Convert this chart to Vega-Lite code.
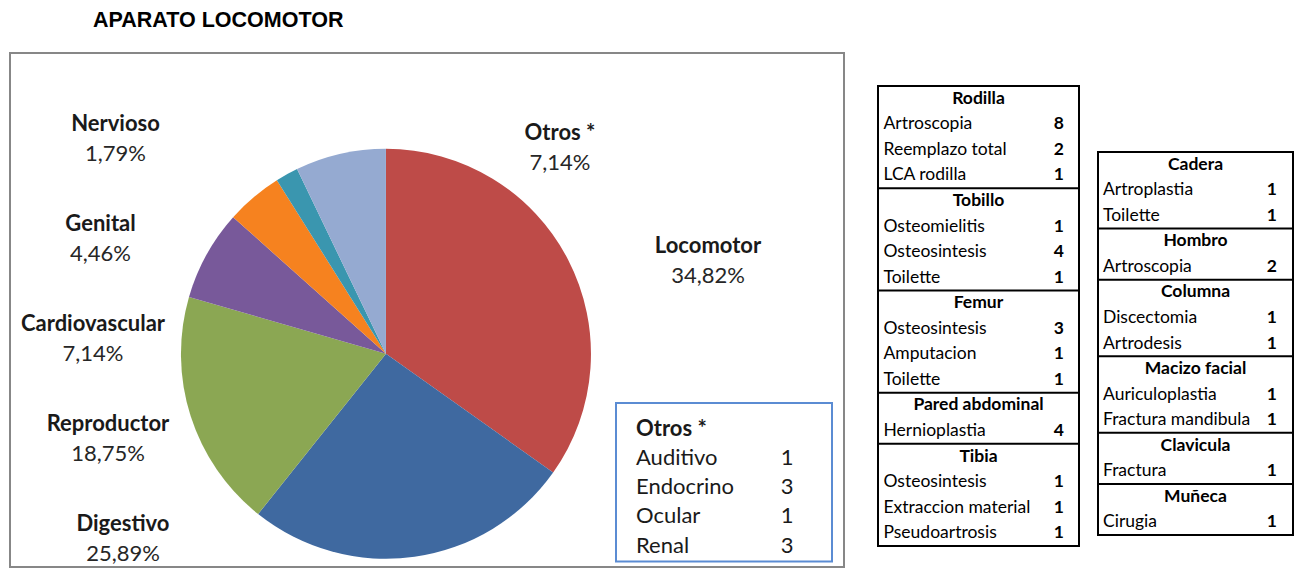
{
  "$schema": "https://vega.github.io/schema/vega-lite/v6.json",
  "padding": {"left": 9, "top": 9, "right": 0, "bottom": 0},
  "config": {
    "locale": {"number": {"decimal": ",", "thousands": ".", "grouping": [3], "currency": ["", " €"]}},
    "view": {"stroke": null},
    "text": {"font": "Lato", "color": "#000000"},
    "title": {"font": "Lato"}
  },
  "datasets": {
    "sistemas": [
      {"sistema": "Locomotor", "proporcion": 0.3482},
      {"sistema": "Digestivo", "proporcion": 0.2589},
      {"sistema": "Reproductor", "proporcion": 0.1875},
      {"sistema": "Cardiovascular", "proporcion": 0.0714},
      {"sistema": "Genital", "proporcion": 0.0446},
      {"sistema": "Nervioso", "proporcion": 0.0179},
      {"sistema": "Otros *", "proporcion": 0.0714}
    ],
    "otros": [
      {"tipo": "grupo", "organo": "Otros *"},
      {"tipo": "item", "organo": "Auditivo", "casos": 1},
      {"tipo": "item", "organo": "Endocrino", "casos": 3},
      {"tipo": "item", "organo": "Ocular", "casos": 1},
      {"tipo": "item", "organo": "Renal", "casos": 3}
    ],
    "tabla1": [
      {"tipo": "grupo", "texto": "Rodilla"},
      {"tipo": "item", "texto": "Artroscopia", "casos": 8},
      {"tipo": "item", "texto": "Reemplazo total", "casos": 2},
      {"tipo": "item", "texto": "LCA rodilla", "casos": 1},
      {"tipo": "grupo", "texto": "Tobillo"},
      {"tipo": "item", "texto": "Osteomielitis", "casos": 1},
      {"tipo": "item", "texto": "Osteosintesis", "casos": 4},
      {"tipo": "item", "texto": "Toilette", "casos": 1},
      {"tipo": "grupo", "texto": "Femur"},
      {"tipo": "item", "texto": "Osteosintesis", "casos": 3},
      {"tipo": "item", "texto": "Amputacion", "casos": 1},
      {"tipo": "item", "texto": "Toilette", "casos": 1},
      {"tipo": "grupo", "texto": "Pared abdominal"},
      {"tipo": "item", "texto": "Hernioplastia", "casos": 4},
      {"tipo": "grupo", "texto": "Tibia"},
      {"tipo": "item", "texto": "Osteosintesis", "casos": 1},
      {"tipo": "item", "texto": "Extraccion material", "casos": 1},
      {"tipo": "item", "texto": "Pseudoartrosis", "casos": 1}
    ],
    "tabla2": [
      {"tipo": "grupo", "texto": "Cadera"},
      {"tipo": "item", "texto": "Artroplastia", "casos": 1},
      {"tipo": "item", "texto": "Toilette", "casos": 1},
      {"tipo": "grupo", "texto": "Hombro"},
      {"tipo": "item", "texto": "Artroscopia", "casos": 2},
      {"tipo": "grupo", "texto": "Columna"},
      {"tipo": "item", "texto": "Discectomia", "casos": 1},
      {"tipo": "item", "texto": "Artrodesis", "casos": 1},
      {"tipo": "grupo", "texto": "Macizo facial"},
      {"tipo": "item", "texto": "Auriculoplastia", "casos": 1},
      {"tipo": "item", "texto": "Fractura mandibula", "casos": 1},
      {"tipo": "grupo", "texto": "Clavicula"},
      {"tipo": "item", "texto": "Fractura", "casos": 1},
      {"tipo": "grupo", "texto": "Muñeca"},
      {"tipo": "item", "texto": "Cirugia", "casos": 1}
    ]
  },
  "spacing": 31,
  "hconcat": [
    {
      "title": {"text": "APARATO LOCOMOTOR", "anchor": "start", "font": "Liberation Sans", "fontSize": 21.5, "fontWeight": "bold", "color": "#000000", "dx": 83, "offset": 21.5},
      "width": 834,
      "height": 514,
      "view": {"stroke": "#878787", "strokeWidth": 2},
      "resolve": {"scale": {"x": "independent", "y": "independent"}},
      "layer": [
        {
          "data": {"name": "sistemas"},
          "transform": [{"window": [{"op": "row_number", "as": "orden"}]}],
          "mark": {"type": "arc", "outerRadius": 205},
          "encoding": {
            "x": {"datum": 0.4508, "type": "quantitative", "axis": null, "scale": {"domain": [0, 1]}},
            "y": {"datum": 0.5852, "type": "quantitative", "axis": null, "scale": {"domain": [0, 1], "reverse": true}},
            "theta": {"field": "proporcion", "type": "quantitative", "stack": true},
            "order": {"field": "orden", "type": "quantitative"},
            "color": {
              "field": "sistema", "type": "nominal", "legend": null,
              "scale": {
                "domain": ["Locomotor", "Digestivo", "Reproductor", "Cardiovascular", "Genital", "Nervioso", "Otros *"],
                "range": ["#BE4B48", "#3F69A0", "#8BA753", "#78599A", "#F6821F", "#3A96AF", "#95AAD1"]
              }
            }
          }
        },
        {
          "data": {"name": "sistemas"},
          "transform": [{"filter": {"field": "sistema", "oneOf": ["Nervioso", "Genital", "Cardiovascular", "Reproductor", "Digestivo"]}}],
          "mark": {"type": "text", "fontSize": 22, "fontWeight": "bold", "color": "#1a1a1a", "dy": -15, "align": "center", "baseline": "middle"},
          "encoding": {
            "text": {"field": "sistema"},
            "x": {"field": "sistema", "type": "nominal", "axis": null, "scale": {"type": "point", "padding": 0, "domain": ["Cardiovascular", "Genital", "Reproductor", "Nervioso", "Digestivo"], "range": [83, 113]}},
            "y": {"field": "sistema", "type": "nominal", "axis": null, "scale": {"type": "point", "padding": 0, "domain": ["Nervioso", "Genital", "Cardiovascular", "Reproductor", "Digestivo"], "range": [85.5, 485.5]}}
          }
        },
        {
          "data": {"name": "sistemas"},
          "transform": [{"filter": {"field": "sistema", "oneOf": ["Nervioso", "Genital", "Cardiovascular", "Reproductor", "Digestivo"]}}],
          "mark": {"type": "text", "fontSize": 22, "color": "#262626", "dy": 15, "align": "center", "baseline": "middle"},
          "encoding": {
            "text": {"field": "proporcion", "type": "quantitative", "format": ".2%"},
            "x": {"field": "sistema", "type": "nominal", "axis": null, "scale": {"type": "point", "padding": 0, "domain": ["Cardiovascular", "Genital", "Reproductor", "Nervioso", "Digestivo"], "range": [83, 113]}},
            "y": {"field": "sistema", "type": "nominal", "axis": null, "scale": {"type": "point", "padding": 0, "domain": ["Nervioso", "Genital", "Cardiovascular", "Reproductor", "Digestivo"], "range": [85.5, 485.5]}}
          }
        },
        {
          "data": {"name": "sistemas"},
          "transform": [{"filter": {"field": "sistema", "oneOf": ["Otros *", "Locomotor"]}}],
          "mark": {"type": "text", "fontSize": 22, "fontWeight": "bold", "color": "#1a1a1a", "dy": -15, "align": "center", "baseline": "middle"},
          "encoding": {
            "text": {"field": "sistema"},
            "x": {"field": "sistema", "type": "nominal", "axis": null, "scale": {"type": "point", "padding": 0, "domain": ["Otros *", "Locomotor"], "range": [550, 698]}},
            "y": {"field": "sistema", "type": "nominal", "axis": null, "scale": {"type": "point", "padding": 0, "domain": ["Otros *", "Locomotor"], "range": [94.5, 207.5]}}
          }
        },
        {
          "data": {"name": "sistemas"},
          "transform": [{"filter": {"field": "sistema", "oneOf": ["Otros *", "Locomotor"]}}],
          "mark": {"type": "text", "fontSize": 22, "color": "#262626", "dy": 15, "align": "center", "baseline": "middle"},
          "encoding": {
            "text": {"field": "proporcion", "type": "quantitative", "format": ".2%"},
            "x": {"field": "sistema", "type": "nominal", "axis": null, "scale": {"type": "point", "padding": 0, "domain": ["Otros *", "Locomotor"], "range": [550, 698]}},
            "y": {"field": "sistema", "type": "nominal", "axis": null, "scale": {"type": "point", "padding": 0, "domain": ["Otros *", "Locomotor"], "range": [94.5, 207.5]}}
          }
        },
        {
          "data": {"name": "otros"},
          "transform": [{"filter": "datum.tipo == 'grupo'"}],
          "mark": {"type": "rect", "filled": false, "stroke": "#5B8CD3", "strokeWidth": 2, "yOffset": -25.5, "y2Offset": 16},
          "encoding": {
            "x": {"datum": "izq", "type": "nominal", "axis": null, "scale": {"type": "point", "padding": 0, "domain": ["izq", "der"], "range": [606, 822]}},
            "x2": {"datum": "der"},
            "y": {"datum": "Otros *", "type": "nominal", "axis": null, "scale": {"type": "point", "padding": 0, "domain": ["Otros *", "Auditivo", "Endocrino", "Ocular", "Renal"], "range": [375.5, 492.5]}},
            "y2": {"datum": "Renal"}
          }
        },
        {
          "data": {"name": "otros"},
          "transform": [{"filter": "datum.tipo == 'grupo'"}],
          "mark": {"type": "text", "fontSize": 22, "fontWeight": "bold", "color": "#1a1a1a", "align": "left", "baseline": "middle", "dx": 20},
          "encoding": {
            "text": {"field": "organo"},
            "x": {"datum": "izq", "type": "nominal", "axis": null, "scale": {"type": "point", "padding": 0, "domain": ["izq", "der"], "range": [606, 822]}},
            "y": {"field": "organo", "type": "nominal", "axis": null, "scale": {"type": "point", "padding": 0, "domain": ["Otros *", "Auditivo", "Endocrino", "Ocular", "Renal"], "range": [375.5, 492.5]}}
          }
        },
        {
          "data": {"name": "otros"},
          "transform": [{"filter": "datum.tipo == 'item'"}],
          "mark": {"type": "text", "fontSize": 22, "color": "#1a1a1a", "align": "left", "baseline": "middle", "dx": 20},
          "encoding": {
            "text": {"field": "organo"},
            "x": {"datum": "izq", "type": "nominal", "axis": null, "scale": {"type": "point", "padding": 0, "domain": ["izq", "der"], "range": [606, 822]}},
            "y": {"field": "organo", "type": "nominal", "axis": null, "scale": {"type": "point", "padding": 0, "domain": ["Otros *", "Auditivo", "Endocrino", "Ocular", "Renal"], "range": [375.5, 492.5]}}
          }
        },
        {
          "data": {"name": "otros"},
          "transform": [{"filter": "datum.tipo == 'item'"}],
          "mark": {"type": "text", "fontSize": 22, "color": "#1a1a1a", "align": "center", "baseline": "middle", "dx": -45},
          "encoding": {
            "text": {"field": "casos", "type": "quantitative"},
            "x": {"datum": "der", "type": "nominal", "axis": null, "scale": {"type": "point", "padding": 0, "domain": ["izq", "der"], "range": [606, 822]}},
            "y": {"field": "organo", "type": "nominal", "axis": null, "scale": {"type": "point", "padding": 0, "domain": ["Otros *", "Auditivo", "Endocrino", "Ocular", "Renal"], "range": [375.5, 492.5]}}
          }
        }
      ]
    },
    {
      "spacing": 15,
      "hconcat": [
        {
          "spacing": 0,
          "vconcat": [
            {"width": 1, "height": 31.5, "view": {"fill": "#ffffff", "stroke": null}, "data": {"values": []}, "mark": "point", "encoding": {}},
            {
              "width": 201,
              "height": 460,
              "view": {"stroke": "#000000", "strokeWidth": 2},
              "data": {"name": "tabla1"},
              "transform": [{"window": [{"op": "row_number", "as": "fila"}]}],
              "encoding": {
                "y": {"field": "fila", "type": "ordinal", "axis": null, "scale": {"type": "band", "paddingInner": 0, "paddingOuter": 0}}
              },
              "layer": [
                {
                  "transform": [{"filter": "datum.tipo == 'grupo'"}],
                  "mark": {"type": "text", "font": "Lato", "fontSize": 17.5, "fontWeight": "bold", "align": "center", "baseline": "middle"},
                  "encoding": {
                    "text": {"field": "texto"},
                    "x": {"datum": "centro", "type": "nominal", "axis": null, "scale": {"type": "point", "domain": ["izq", "centro", "der"], "padding": 0}}
                  }
                },
                {
                  "transform": [{"filter": "datum.tipo == 'item'"}],
                  "mark": {"type": "text", "font": "Lato", "fontSize": 17.5, "align": "left", "baseline": "middle", "dx": 5.5},
                  "encoding": {
                    "text": {"field": "texto"},
                    "x": {"datum": "izq", "type": "nominal", "axis": null, "scale": {"type": "point", "domain": ["izq", "centro", "der"], "padding": 0}}
                  }
                },
                {
                  "transform": [{"filter": "datum.tipo == 'item'"}],
                  "mark": {"type": "text", "font": "Lato", "fontSize": 17.5, "fontWeight": "bold", "align": "right", "baseline": "middle", "dx": -15},
                  "encoding": {
                    "text": {"field": "casos", "type": "quantitative"},
                    "x": {"datum": "der", "type": "nominal", "axis": null, "scale": {"type": "point", "domain": ["izq", "centro", "der"], "padding": 0}}
                  }
                },
                {
                  "transform": [{"filter": "datum.tipo == 'grupo' && datum.fila > 1"}],
                  "mark": {"type": "rule", "color": "#000000", "strokeWidth": 2},
                  "encoding": {
                    "y": {"field": "fila", "type": "ordinal", "bandPosition": 0}
                  }
                }
              ]
            }
          ]
        },
        {
          "spacing": 0,
          "vconcat": [
            {"width": 1, "height": 97.5, "view": {"fill": "#ffffff", "stroke": null}, "data": {"values": []}, "mark": "point", "encoding": {}},
            {
              "width": 195,
              "height": 383,
              "view": {"stroke": "#000000", "strokeWidth": 2},
              "data": {"name": "tabla2"},
              "transform": [{"window": [{"op": "row_number", "as": "fila"}]}],
              "encoding": {
                "y": {"field": "fila", "type": "ordinal", "axis": null, "scale": {"type": "band", "paddingInner": 0, "paddingOuter": 0}}
              },
              "layer": [
                {
                  "transform": [{"filter": "datum.tipo == 'grupo'"}],
                  "mark": {"type": "text", "font": "Lato", "fontSize": 17.5, "fontWeight": "bold", "align": "center", "baseline": "middle"},
                  "encoding": {
                    "text": {"field": "texto"},
                    "x": {"datum": "centro", "type": "nominal", "axis": null, "scale": {"type": "point", "domain": ["izq", "centro", "der"], "padding": 0}}
                  }
                },
                {
                  "transform": [{"filter": "datum.tipo == 'item'"}],
                  "mark": {"type": "text", "font": "Lato", "fontSize": 17.5, "align": "left", "baseline": "middle", "dx": 5},
                  "encoding": {
                    "text": {"field": "texto"},
                    "x": {"datum": "izq", "type": "nominal", "axis": null, "scale": {"type": "point", "domain": ["izq", "centro", "der"], "padding": 0}}
                  }
                },
                {
                  "transform": [{"filter": "datum.tipo == 'item'"}],
                  "mark": {"type": "text", "font": "Lato", "fontSize": 17.5, "fontWeight": "bold", "align": "right", "baseline": "middle", "dx": -16},
                  "encoding": {
                    "text": {"field": "casos", "type": "quantitative"},
                    "x": {"datum": "der", "type": "nominal", "axis": null, "scale": {"type": "point", "domain": ["izq", "centro", "der"], "padding": 0}}
                  }
                },
                {
                  "transform": [{"filter": "datum.tipo == 'grupo' && datum.fila > 1"}],
                  "mark": {"type": "rule", "color": "#000000", "strokeWidth": 2},
                  "encoding": {
                    "y": {"field": "fila", "type": "ordinal", "bandPosition": 0}
                  }
                }
              ]
            }
          ]
        }
      ]
    }
  ]
}
